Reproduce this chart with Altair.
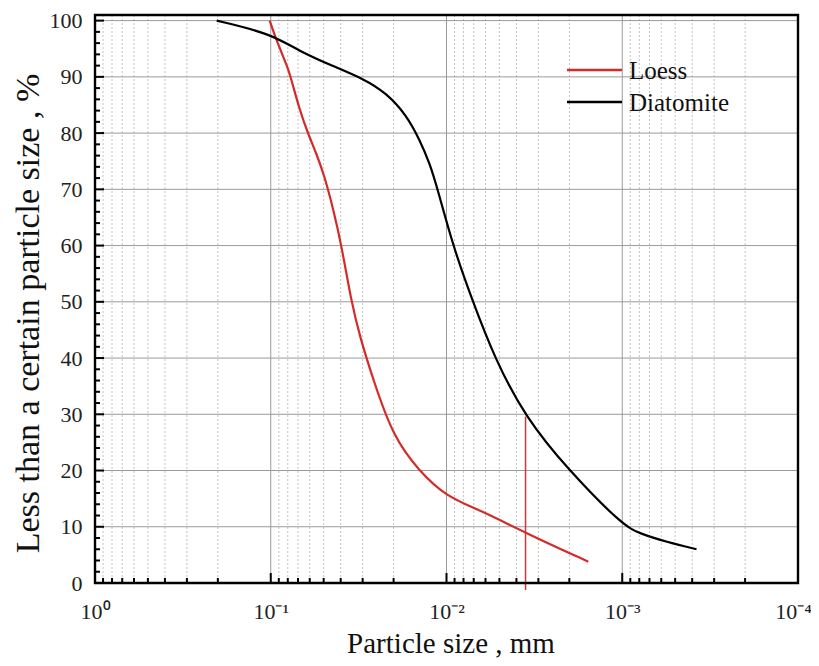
import altair as alt
import pandas as pd

# ---- data ----
loess_x = [0.1014, 0.0929, 0.0796, 0.0762, 0.0684, 0.0614, 0.0550, 0.0493, 0.0442,
           0.0396, 0.0348, 0.0311, 0.0261, 0.0201, 0.0145, 0.0100, 0.00646, 0.00355, 0.00156]
loess_y = [100, 96.5, 91.5, 89.4, 84.1, 79.9, 76.4, 72.2, 66.6,
           60.1, 50.0, 43.8, 36.1, 26.0, 20.1, 15.3, 13.0, 8.9, 3.8]

diat_x = [0.203, 0.1, 0.0684, 0.0442, 0.0298, 0.0219, 0.0169, 0.0142, 0.01245, 0.0112,
          0.00916, 0.00706, 0.00531, 0.00358, 0.00203, 0.00099, 0.000794, 0.00056, 0.000378]
diat_y = [100, 97.7, 94.5, 91.9, 89.7, 87.1, 83.2, 78.8, 74.6, 69.9,
          59.8, 49.9, 39.9, 29.6, 20.1, 10.2, 8.8, 7.3, 6.0]

marker_x = [0.00355]
marker_y = [29.6]

x_major = [1, 0.1, 0.01, 0.001, 0.0001]
x_minor = [m * d for d in [0.1, 0.01, 0.001, 0.0001] for m in range(2, 10)]
y_major = [0, 10, 20, 30, 40, 50, 60, 70, 80, 90, 100]
y_minor = [v for v in range(0, 101, 2) if v % 10 != 0]

series = ["Loess", "Diatomite"]
colors = ["#d42a2a", "#000000"]

W, H = 703, 568
FONT = "Liberation Serif"

rows = []
for i, (x, y) in enumerate(zip(loess_x, loess_y)):
    rows.append({"size": x, "pct": y, "series": "Loess", "i": i})
for i, (x, y) in enumerate(zip(diat_x, diat_y)):
    rows.append({"size": x, "pct": y, "series": "Diatomite", "i": i})
df = pd.DataFrame(rows)

xscale = alt.Scale(type="log", domain=[0.0001, 1], reverse=True)
yscale = alt.Scale(domain=[0, 101])
cscale = alt.Scale(domain=series, range=colors)

label_expr = ("datum.value > 0.5 ? '10⁰' : datum.value > 0.05 ? '10⁻¹' : "
              "datum.value > 0.005 ? '10⁻²' : datum.value > 0.0005 ? '10⁻³' : '10⁻⁴'")

xaxis = alt.Axis(
    values=x_major, labelExpr=label_expr, grid=False, ticks=False, domain=False,
    labelFont=FONT, labelFontSize=22, labelColor="#222", labelPadding=35,
    labelBaseline="alphabetic", labelFlush=False, labelOverlap=False,
    labelOffset={"condition": {"test": "datum.value < 0.0005", "value": -5}, "value": 0},
    title="Particle size , mm", titleFont=FONT, titleFontSize=29,
    titleFontWeight="normal", titleColor="#111", titleX=W / 2 + 4, titleY=69,
    titleBaseline="alphabetic")
yaxis = alt.Axis(
    values=y_major, grid=False, ticks=False, domain=False,
    labelFont=FONT, labelFontSize=22, labelColor="#222", labelPadding=13,
    labelFlush=False, labelOverlap=False,
    title="Less than a certain particle size , %", titleFont=FONT, titleFontSize=34,
    titleFontWeight="normal", titleColor="#111", titleX=-67, titleY=298,
    titleBaseline="middle")


def X(field):
    return alt.X(field, scale=xscale, axis=xaxis)


def Y(field):
    return alt.Y(field, scale=yscale, axis=yaxis)


# minor dotted grid
minor_grid = alt.Chart(pd.DataFrame({"v": x_minor})).mark_rule(
    color="#c4c4c4", strokeDash=[2, 2], strokeWidth=1
).encode(x=X("v:Q"), y=alt.value(0), y2=alt.value(H))

# major x grid
major_grid = alt.Chart(pd.DataFrame({"v": x_major})).mark_rule(
    color="#9a9a9a", strokeWidth=1
).encode(x=X("v:Q"), y=alt.value(0), y2=alt.value(H))

# y grid
y_grid = alt.Chart(pd.DataFrame({"v": y_major})).mark_rule(
    color="#9a9a9a", strokeWidth=1
).encode(y=Y("v:Q"), x=alt.value(0), x2=alt.value(W))

# x ticks (inward)
x_major_ticks = alt.Chart(pd.DataFrame({"v": x_major})).mark_rule(
    color="black", strokeWidth=2
).encode(x=X("v:Q"), y=alt.value(H), y2=alt.value(H - 10))
x_minor_ticks = alt.Chart(pd.DataFrame({"v": x_minor})).mark_rule(
    color="black", strokeWidth=2
).encode(x=X("v:Q"), y=alt.value(H), y2=alt.value(H - 5))

# y ticks (inward)
y_major_ticks = alt.Chart(pd.DataFrame({"v": y_major})).mark_rule(
    color="black", strokeWidth=2
).encode(y=Y("v:Q"), x=alt.value(0), x2=alt.value(9))
y_minor_ticks = alt.Chart(pd.DataFrame({"v": y_minor})).mark_rule(
    color="black", strokeWidth=2
).encode(y=Y("v:Q"), x=alt.value(0), x2=alt.value(5))

lines = alt.Chart(df).mark_line(strokeWidth=2.2, interpolate="basis").encode(
    x=X("size:Q"),
    y=Y("pct:Q"),
    order="i:Q",
    color=alt.Color("series:N", scale=cscale, legend=None),
)

marker = alt.Chart(pd.DataFrame({"x": marker_x, "y": marker_y})).mark_rule(
    color="#d03838", strokeWidth=1.5
).encode(x=X("x:Q"), y=Y("y:Q"), y2=alt.value(H + 7))

# plot frame
frame = alt.Chart(pd.DataFrame({"k": [0]})).mark_rect(
    fill="transparent", stroke="black", strokeWidth=2.4
).encode(x=alt.value(0), x2=alt.value(W), y=alt.value(0), y2=alt.value(H))

main = alt.layer(
    minor_grid, major_grid, y_grid, x_minor_ticks, x_major_ticks,
    y_minor_ticks, y_major_ticks, marker, lines, frame
)

# legend inside the plot (top right)
legend_df = pd.DataFrame({"series": series, "row": [0, 1]})
leg_y = alt.Y("row:Q", scale=alt.Scale(domain=[0, 1], range=[55, 87]), axis=None)
leg_lines = alt.Chart(legend_df).mark_rule(strokeWidth=2.5).encode(
    x=alt.value(472), x2=alt.value(527), y=leg_y,
    color=alt.Color("series:N", scale=cscale, legend=None),
)
leg_text = alt.Chart(legend_df).mark_text(
    align="left", baseline="middle", font=FONT, fontSize=25, color="#111", dy=1
).encode(x=alt.value(534), y=leg_y, text="series:N")
legend = alt.layer(leg_lines, leg_text)

chart = alt.layer(main, legend).resolve_scale(y="independent").properties(
    width=W, height=H,
    autosize=alt.AutoSizeParams(type="none"),
    padding={"left": 87, "top": 7, "right": 13, "bottom": 75},
    background="white",
).configure_view(strokeWidth=0)

chart.save("out.html", embed_options={"renderer": "svg", "actions": False})
